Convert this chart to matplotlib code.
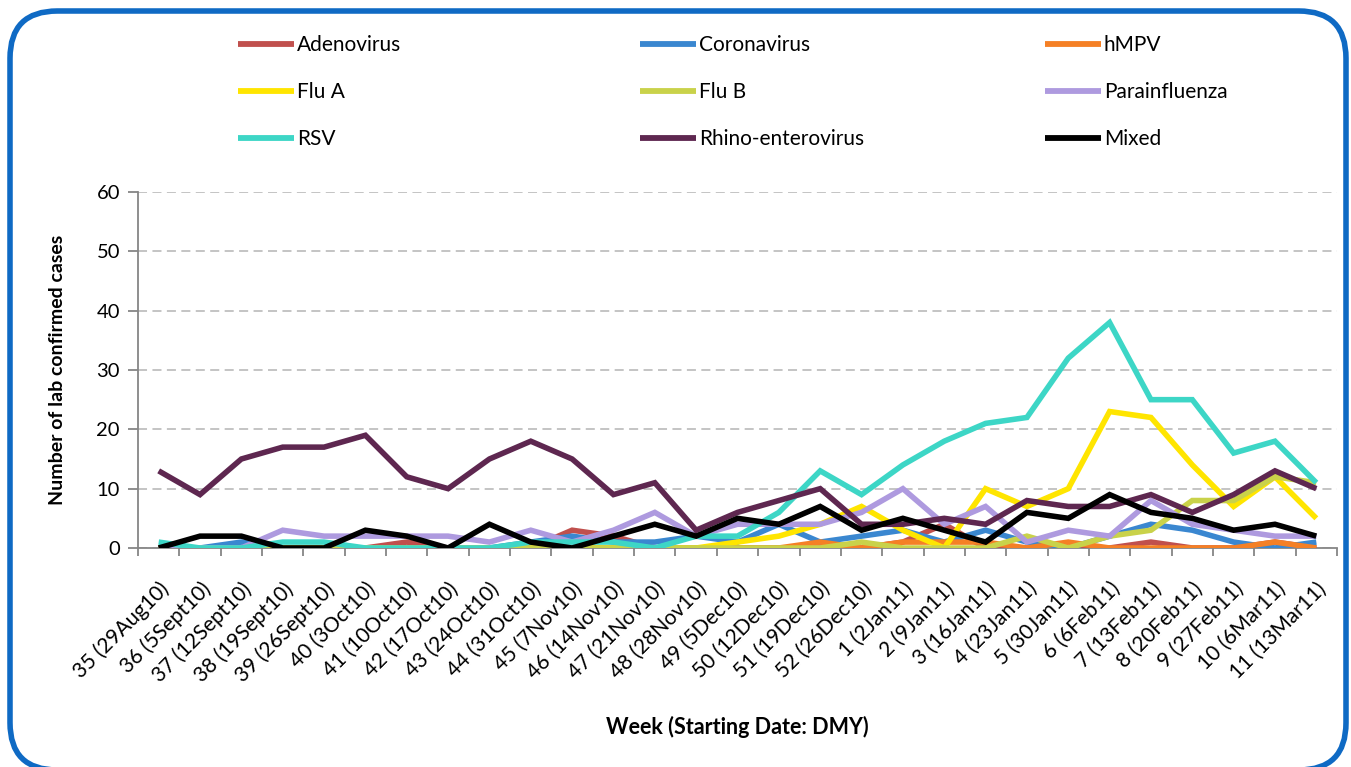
import matplotlib
matplotlib.use("Agg")
import matplotlib.pyplot as plt
from matplotlib.patches import FancyBboxPatch

plt.rcParams['font.family'] = ['Lato', 'DejaVu Sans']

weeks = ["35 (29Aug10)", "36 (5Sept10)", "37 (12Sept10)", "38 (19Sept10)", "39 (26Sept10)",
         "40 (3Oct10)", "41 (10Oct10)", "42 (17Oct10)", "43 (24Oct10)", "44 (31Oct10)",
         "45 (7Nov10)", "46 (14Nov10)", "47 (21Nov10)", "48 (28Nov10)", "49 (5Dec10)",
         "50 (12Dec10)", "51 (19Dec10)", "52 (26Dec10)", "1 (2Jan11)", "2 (9Jan11)",
         "3 (16Jan11)", "4 (23Jan11)", "5 (30Jan11)", "6 (6Feb11)", "7 (13Feb11)",
         "8 (20Feb11)", "9 (27Feb11)", "10 (6Mar11)", "11 (13Mar11)"]

adenovirus    = [0, 0, 0, 0, 0, 0, 1, 0, 0, 0, 3, 2, 0, 0, 0, 0, 0, 0, 1, 4, 0, 0, 0, 0, 1, 0, 0, 1, 0]
coronavirus   = [0, 0, 1, 0, 0, 0, 0, 0, 0, 1, 2, 1, 1, 2, 1, 4, 1, 2, 3, 1, 3, 1, 0, 2, 4, 3, 1, 0, 1]
hmpv          = [0, 0, 0, 0, 0, 0, 0, 0, 0, 0, 0, 0, 0, 0, 0, 0, 1, 0, 1, 1, 1, 0, 1, 0, 0, 0, 0, 1, 0]
flu_a         = [0, 0, 0, 0, 0, 0, 0, 0, 0, 0, 0, 0, 0, 0, 1, 2, 4, 7, 3, 0, 10, 7, 10, 23, 22, 14, 7, 12, 5]
flu_b         = [0, 0, 0, 0, 0, 0, 0, 0, 0, 0, 0, 0, 0, 0, 0, 0, 0, 1, 0, 0, 0, 2, 0, 2, 3, 8, 8, 12, 11]
parainfluenza = [0, 0, 0, 3, 2, 2, 2, 2, 1, 3, 1, 3, 6, 2, 4, 4, 4, 6, 10, 4, 7, 1, 3, 2, 8, 4, 3, 2, 2]
rsv           = [1, 0, 0, 1, 1, 0, 0, 0, 0, 1, 1, 1, 0, 2, 2, 6, 13, 9, 14, 18, 21, 22, 32, 38, 25, 25, 16, 18, 11]
rhino         = [13, 9, 15, 17, 17, 19, 12, 10, 15, 18, 15, 9, 11, 3, 6, 8, 10, 4, 4, 5, 4, 8, 7, 7, 9, 6, 9, 13, 10]
mixed         = [0, 2, 2, 0, 0, 3, 2, 0, 4, 1, 0, 2, 4, 2, 5, 4, 7, 3, 5, 3, 1, 6, 5, 9, 6, 5, 3, 4, 2]

series_names = ["Adenovirus", "Coronavirus", "hMPV", "Flu A", "Flu B", "Parainfluenza",
                "RSV", "Rhino-enterovirus", "Mixed"]
series_data = [adenovirus, coronavirus, hmpv, flu_a, flu_b, parainfluenza, rsv, rhino, mixed]
colors = ["#C0504D", "#3A87D0", "#F58025", "#FFE500", "#C9D24A", "#AE9ADF",
          "#3DD6C6", "#5E2750", "#000000"]

fig = plt.figure(figsize=(13.51, 7.67), dpi=100)
ax = fig.add_axes([138/1351, 1-548/767, (1337-138)/1351, (548-192)/767])

x = list(range(len(weeks)))
handles = []
for name, data, c in zip(series_names, series_data, colors):
    ln, = ax.plot(x, data, color=c, lw=4.0, solid_joinstyle='miter', solid_capstyle='butt',
                  label=name, zorder=3)
    handles.append(ln)

ax.set_xlim(-0.5, len(weeks) - 0.5)
ax.set_ylim(0, 60)
ax.set_yticks(range(0, 61, 10))
ax.yaxis.grid(True, linestyle=(0, (5, 3)), color="#BFBFBF", lw=1.3)
ax.set_axisbelow(True)
for s in ["top", "right"]:
    ax.spines[s].set_visible(False)
for s in ["left", "bottom"]:
    ax.spines[s].set_color("#868686")
    ax.spines[s].set_linewidth(1.3)

ax.set_xticks(x)
ax.set_xticklabels(weeks, rotation=45, ha='right', va='top', rotation_mode='anchor', fontsize=15)
ax.set_xticks([i - 0.5 for i in range(len(weeks) + 1)], minor=True)
ax.tick_params(axis='x', which='major', length=0, pad=22)
ax.tick_params(axis='x', which='minor', length=6, color="#868686", width=1.3)
ax.tick_params(axis='y', length=7, color="#868686", width=1.3, labelsize=14.5, pad=6)

ax.set_ylabel("Number of lab confirmed cases", fontsize=14, fontweight='bold', labelpad=22)
ax.set_xlabel("Week (Starting Date: DMY)", fontsize=15.5, fontweight='bold', labelpad=22)

# legend: three columns placed individually
col_x = [238/1351, 640/1351, 1045/1351]
for ci in range(3):
    hs = [handles[ci], handles[ci + 3], handles[ci + 6]]
    leg = fig.legend(handles=hs, labels=[h.get_label() for h in hs], loc='upper left',
                     bbox_to_anchor=(col_x[ci], 1 - 35/767), frameon=False, fontsize=15,
                     handlelength=2.7, handletextpad=0.12, labelspacing=1.3,
                     borderaxespad=0, borderpad=0)
    for lh in leg.get_lines():
        lh.set_linewidth(4.2)

# rounded blue frame
frame = FancyBboxPatch((10/1351, 1 - 770/767), (1346 - 10)/1351, (770 - 11)/767,
                       boxstyle="round,pad=0,rounding_size=0.035",
                       transform=fig.transFigure, facecolor='none', edgecolor='#0F6AC4',
                       lw=4, mutation_aspect=1351/767, clip_on=False)
fig.patches.append(frame)

fig.savefig("out.png", dpi=100)
